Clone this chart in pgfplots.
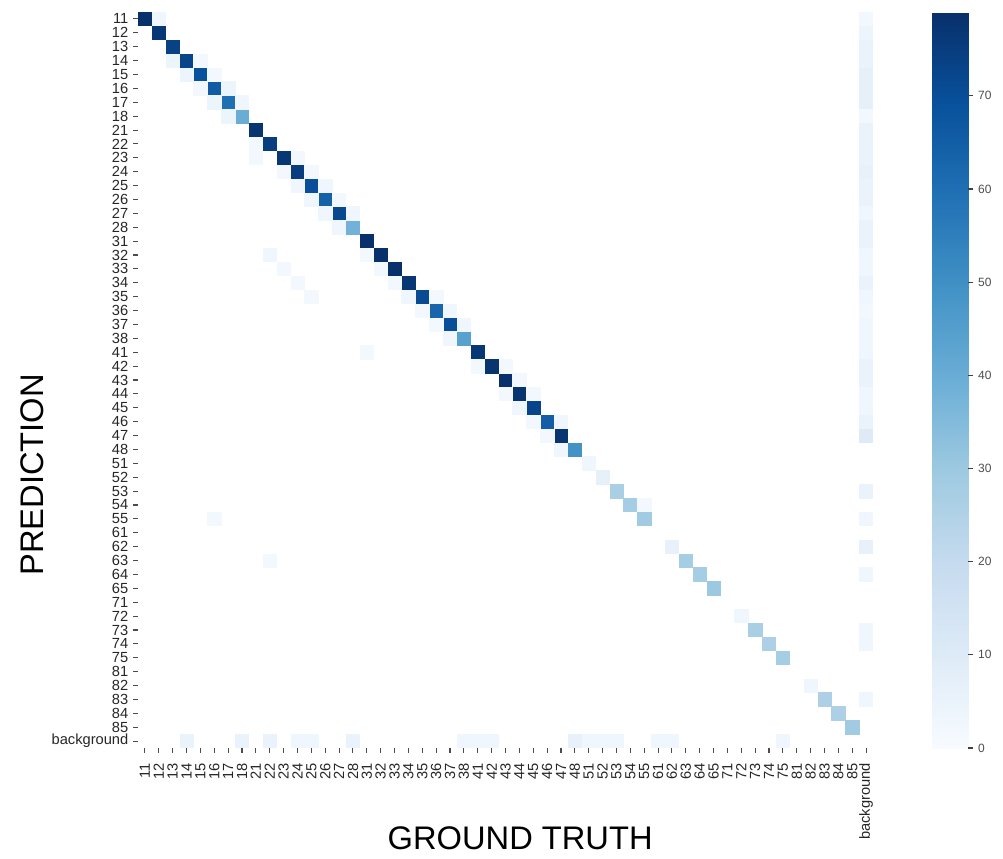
\documentclass[border=0pt]{standalone}
\usepackage{fontspec}
\setmainfont{Liberation Sans}
\usepackage{pgfplots}
\pgfplotsset{compat=1.18}
\begin{document}
\begin{tikzpicture}
\useasboundingbox (0pt,0pt) rectangle (752.25pt,-643.5pt);
\begin{axis}[
  at={(103.5pt,-9pt)}, anchor=north west,
  scale only axis, width=551.25pt, height=552pt,
  xmin=-0.5, xmax=52.5, ymin=-0.5, ymax=52.5,
  axis line style={draw=none},
  xtick={0,...,52}, ytick={0,...,52},
  xticklabels={11,12,13,14,15,16,17,18,21,22,23,24,25,26,27,28,31,32,33,34,35,36,37,38,41,42,43,44,45,46,47,48,51,52,53,54,55,61,62,63,64,65,71,72,73,74,75,81,82,83,84,85,background},
  yticklabels={background,85,84,83,82,81,75,74,73,72,71,65,64,63,62,61,55,54,53,52,51,48,47,46,45,44,43,42,41,38,37,36,35,34,33,32,31,28,27,26,25,24,23,22,21,18,17,16,15,14,13,12,11},
  tick pos=left, tick align=outside, major tick length=3.75pt,
  tick style={color=black!70, line width=0.8pt},
  ticklabel style={font=\fontsize{11}{11}\selectfont, text=black!85},
  xticklabel style={rotate=90, anchor=east},
  xticklabel shift=4pt,
  xlabel={GROUND TRUTH}, ylabel={PREDICTION},
  label style={font=\fontsize{24.5}{24.5}\selectfont, text=black, inner sep=0pt},
  xlabel style={at={(axis description cs:0.52,-0.1223)}, anchor=center},
  ylabel style={at={(axis description cs:-0.1442,0.371)}, anchor=center},
  colormap={blues}{rgb255=(247,251,255) rgb255=(222,235,247) rgb255=(198,219,239) rgb255=(158,202,225) rgb255=(107,174,214) rgb255=(66,146,198) rgb255=(33,113,181) rgb255=(8,81,156) rgb255=(8,48,107)},
  point meta min=0, point meta max=79,
  colorbar,
  colorbar/width=27pt,
  colorbar style={
    at={(parent axis.north east)}, anchor=north west, xshift=36pt,
    ytick={0,10,...,70},
    ytick pos=right, yticklabel pos=right,
    axis line style={draw=none},
    tick align=outside, major tick length=3.75pt,
    tick style={color=black!75, line width=0.8pt},
    yticklabel style={font=\fontsize{9}{9}\selectfont, text=black!70, /pgf/number format/assume math mode=true},
  },
]
\addplot[scatter, only marks, mark=square*, mark size=5.0pt,
  scatter/use mapped color={draw=mapped color, fill=mapped color},
  mark options={line width=0.4pt}, point meta=explicit]
  table[x=c, y=r, meta=v] {
c r v
0 52 79
1 51 77
2 50 74
3 49 73
4 48 69
5 47 66
6 46 60
7 45 40
8 44 78
9 43 75
10 42 77
11 41 75
12 40 70
13 39 64
14 38 72
15 37 38
16 36 79
17 35 79
18 34 79
19 33 77
20 32 71
21 31 63
22 30 70
23 29 44
24 28 77
25 27 78
26 26 79
27 25 78
28 24 73
29 23 65
30 22 78
31 21 49
32 20 3
33 19 7
34 18 27
35 17 28
36 16 29
38 14 6
39 13 28
40 12 28
41 11 30
43 9 3
44 8 27
45 7 26
46 6 28
48 4 3
49 3 26
50 2 26
51 1 29
1 52 3
2 49 4
4 49 2
3 48 4
5 48 2
4 47 2
6 47 4
5 46 4
7 46 3
6 45 4
8 43 2
8 42 2
11 42 2
10 41 2
12 41 2
11 40 3
13 40 3
12 39 3
14 39 2
13 38 3
15 38 3
14 37 3
16 35 2
9 35 3
17 34 2
10 34 2
18 33 2
11 33 2
19 32 3
21 32 2
12 32 2
20 31 2
22 31 3
21 30 2
23 30 3
22 29 3
16 28 2
24 27 2
26 27 2
27 26 2
26 25 2
28 25 2
27 24 3
28 23 2
30 23 3
29 22 2
30 21 3
36 17 2
5 16 2
9 13 2
52 52 2
52 51 4
52 50 5
52 49 5
52 48 7
52 47 7
52 46 7
52 45 2
52 44 5
52 43 5
52 42 5
52 41 6
52 40 5
52 39 5
52 38 3
52 37 5
52 36 5
52 35 3
52 34 3
52 33 5
52 32 3
52 31 2
52 30 3
52 29 3
52 28 3
52 27 5
52 26 5
52 25 3
52 24 3
52 23 5
52 22 10
52 18 5
52 16 3
52 14 6
52 12 3
52 8 3
52 7 3
52 3 3
3 0 5
7 0 5
9 0 5
11 0 3
12 0 3
15 0 5
23 0 3
24 0 3
25 0 3
31 0 6
32 0 3
33 0 3
34 0 3
37 0 3
38 0 3
46 0 3
};
\end{axis}
\end{tikzpicture}
\end{document}
